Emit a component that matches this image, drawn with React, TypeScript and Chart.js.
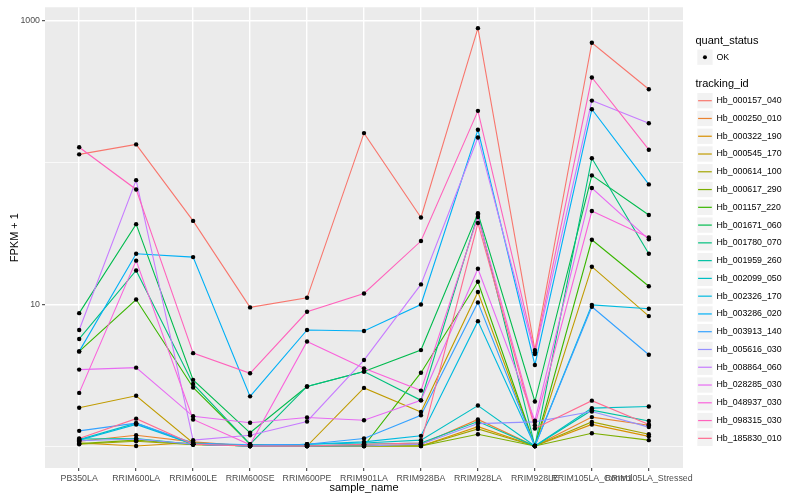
import React, { useEffect, useRef } from "react";
import { Chart, registerables } from "chart.js";

Chart.register(...registerables);

const FONT = "'Liberation Sans', Arial, Helvetica, sans-serif";

const sampleNames = [
  "PB350LA", "RRIM600LA", "RRIM600LE", "RRIM600SE", "RRIM600PE", "RRIM901LA",
  "RRIM928BA", "RRIM928LA", "RRIM928LE", "RRIM105LA_Control", "RRIM105LA_Stressed",
];

const trackingIds = [
  "Hb_000157_040", "Hb_000250_010", "Hb_000322_190", "Hb_000545_170", "Hb_000614_100",
  "Hb_000617_290", "Hb_001157_220", "Hb_001671_060", "Hb_001780_070", "Hb_001959_260",
  "Hb_002099_050", "Hb_002326_170", "Hb_003286_020", "Hb_003913_140", "Hb_005616_030",
  "Hb_008864_060", "Hb_028285_030", "Hb_048937_030", "Hb_098315_030", "Hb_185830_010",
];

const seriesColors = [
  "#F8766D", "#EA8331", "#D89000", "#C09B00", "#A3A500",
  "#7CAE00", "#39B600", "#00BB4E", "#00BF7D", "#00C1A3",
  "#00BFC4", "#00BAE0", "#00B0F6", "#35A2FF", "#9590FF",
  "#C77CFF", "#E76BF3", "#FA62DB", "#FF62BC", "#FF6C91",
];

// FPKM + 1 per sample (same order as sampleNames)
const hb_000157_040 = [114, 134, 38.7, 9.5, 11.1, 161, 40.9, 885, 4.75, 698, 328];
const hb_000250_010 = [1.08, 1.19, 1.07, 1, 1, 1, 1.03, 1.54, 1, 1.6, 1.4];
const hb_000322_190 = [1.05, 1.0, 1.06, 1, 1, 1, 1, 1.37, 1, 1.42, 1.17];
const hb_000545_170 = [1.86, 2.26, 1.05, 1, 1, 2.57, 1.74, 12.2, 1, 18.4, 8.25];
const hb_000614_100 = [1.03, 1.08, 1.02, 1, 1, 1, 1, 1.32, 1, 1.48, 1.21];
const hb_000617_290 = [1.04, 1.1, 1.03, 1, 1, 1, 1, 1.21, 1, 1.23, 1.1];
const hb_001157_220 = [4.65, 10.8, 2.59, 1.03, 1, 1, 3.29, 14.4, 1, 28.5, 13.4];
const hb_001671_060 = [8.65, 36.7, 2.93, 1.24, 2.63, 3.35, 4.75, 43.8, 2.06, 81, 42.6];
const hb_001780_070 = [5.69, 17.3, 2.74, 1.03, 2.63, 3.35, 2.1, 42.9, 1, 107, 22.7];
const hb_001959_260 = [1.12, 1.13, 1.03, 1, 1, 1.03, 1.05, 1.49, 1, 1.79, 1.5];
const hb_002099_050 = [1.11, 1.45, 1.03, 1, 1.03, 1.05, 1.1, 1.93, 1, 1.85, 1.9];
const hb_002326_170 = [1.1, 1.42, 1.03, 1, 1.03, 1.07, 1.18, 7.6, 1, 9.9, 9.3];
const hb_003286_020 = [4.65, 22.7, 21.5, 2.24, 6.58, 6.47, 9.95, 170, 3.73, 237, 70];
const hb_003913_140 = [1.28, 1.45, 1.05, 1.02, 1.03, 1.13, 1.65, 10.3, 1, 9.6, 4.4];
const hb_005616_030 = [1.09, 1.12, 1.03, 1, 1, 1, 1.03, 1.44, 1.48, 1.75, 1.36];
const hb_008864_060 = [6.58, 75, 1.1, 1.19, 1.49, 4.04, 13.8, 150, 4.45, 273, 189];
const hb_028285_030 = [3.46, 3.57, 1.62, 1.46, 1.59, 1.52, 2.1, 17.8, 1.51, 66, 28.7];
const hb_048937_030 = [2.37, 20.3, 1.54, 1.02, 5.46, 3.53, 2.46, 41.2, 1.4, 45.4, 29.6];
const hb_098315_030 = [128, 64.5, 4.52, 3.26, 8.85, 11.9, 27.9, 231, 4.59, 397, 123];
const hb_185830_010 = [1.13, 1.56, 1.03, 1, 1, 1.03, 1.05, 37.4, 1.33, 2.09, 1.42];

const seriesValues = [
  hb_000157_040, hb_000250_010, hb_000322_190, hb_000545_170, hb_000614_100,
  hb_000617_290, hb_001157_220, hb_001671_060, hb_001780_070, hb_001959_260,
  hb_002099_050, hb_002326_170, hb_003286_020, hb_003913_140, hb_005616_030,
  hb_008864_060, hb_028285_030, hb_048937_030, hb_098315_030, hb_185830_010,
];

const yTickValues = [1, 10, 100, 1000];
const yTickLabels = ["", "10", "", "1000"];
const yTickMajor = [false, true, false, true];

const xTitle = "sample_name";
const yTitle = "FPKM + 1";
const statusTitle = "quant_status";
const statusLabels = ["OK"];
const trackingTitle = "tracking_id";

const panelBg = {
  id: "panelBg",
  beforeDraw(chart: any) {
    const { ctx, chartArea } = chart;
    if (!chartArea) return;
    ctx.save();
    ctx.fillStyle = "#FFFFFF";
    ctx.fillRect(0, 0, chart.width, chart.height);
    ctx.fillStyle = "#EBEBEB";
    ctx.fillRect(chartArea.left, chartArea.top, chartArea.right - chartArea.left, chartArea.bottom - chartArea.top);
    ctx.restore();
  },
};

const ggLegend = {
  id: "ggLegend",
  afterDraw(chart: any) {
    const ctx = chart.ctx;
    const x0 = 695.5;
    const keyX = 697.3;
    const keyW = 15.3;
    const textX = 716.5;
    ctx.save();
    ctx.textBaseline = "middle";
    ctx.textAlign = "left";
    ctx.fillStyle = "#000";
    ctx.font = `11px ${FONT}`;
    ctx.fillText(statusTitle, x0, 40.5);
    // OK key
    const okY = 57.2;
    ctx.fillStyle = "#F2F2F2";
    ctx.fillRect(keyX, okY - keyW / 2, keyW, keyW);
    ctx.fillStyle = "#000";
    ctx.beginPath();
    ctx.arc(keyX + keyW / 2, okY, 2, 0, Math.PI * 2);
    ctx.fill();
    ctx.font = `8.8px ${FONT}`;
    ctx.fillText(statusLabels[0], textX, okY);
    ctx.font = `11px ${FONT}`;
    ctx.fillText(trackingTitle, x0, 84.3);
    trackingIds.forEach((id, i) => {
      const cy = 100.7 + i * 17.77;
      ctx.fillStyle = "#F2F2F2";
      ctx.fillRect(keyX, cy - keyW / 2, keyW, keyW);
      ctx.strokeStyle = seriesColors[i];
      ctx.lineWidth = 1.2;
      ctx.beginPath();
      ctx.moveTo(keyX + 0.8, cy);
      ctx.lineTo(keyX + keyW - 0.8, cy);
      ctx.stroke();
      ctx.fillStyle = "#000";
      ctx.font = `8.8px ${FONT}`;
      ctx.fillText(id, textX, cy);
    });
    ctx.restore();
  },
};

export default function App() {
  const canvasRef = useRef<HTMLCanvasElement | null>(null);

  useEffect(() => {
    if (!canvasRef.current) return;
    const lineSets = seriesValues.map((vals, i) => ({
      label: trackingIds[i],
      data: vals.map((v, j) => ({ x: j, y: v })),
      borderColor: seriesColors[i],
      backgroundColor: seriesColors[i],
      borderWidth: 1.1,
      pointRadius: 0,
      pointHoverRadius: 0,
      fill: false,
      tension: 0,
      order: 100 - i,
    }));
    const pointSet = {
      label: "points",
      data: seriesValues.flatMap((vals) => vals.map((v, j) => ({ x: j, y: v }))),
      showLine: false,
      borderColor: "#000",
      backgroundColor: "#000",
      pointRadius: 2.2,
      pointBorderWidth: 0,
      pointHoverRadius: 2.2,
      order: 0,
    };

    const chart = new Chart(canvasRef.current, {
      type: "line",
      data: { datasets: [...lineSets, pointSet] as any },
      options: {
        animation: false,
        responsive: true,
        maintainAspectRatio: false,
        events: [],
        layout: { padding: { left: 8, right: 117, top: 5, bottom: 5 } },
        plugins: {
          legend: { display: false },
          tooltip: { enabled: false },
          title: { display: false },
        },
        scales: {
          x: {
            type: "linear",
            min: -0.6,
            max: sampleNames.length - 1 + 0.6,
            afterBuildTicks: (scale: any) => {
              scale.ticks = sampleNames.map((_, i) => ({ value: i }));
            },
            afterFit: (scale: any) => {
              scale.height = 27;
            },
            border: { display: false },
            grid: {
              color: "#FFFFFF",
              lineWidth: 1.4,
              tickColor: "#333333",
              tickLength: 3,
              tickWidth: 1,
            },
            ticks: {
              autoSkip: false,
              maxRotation: 0,
              minRotation: 0,
              padding: 2,
              color: "#4D4D4D",
              font: { family: FONT, size: 8.8 },
              callback: (v: any) => sampleNames[Math.round(v)] ?? "",
            },
            title: {
              display: true,
              text: xTitle,
              color: "#000",
              font: { family: FONT, size: 11 },
              padding: { top: 0, bottom: 0 },
            },
          },
          y: {
            type: "logarithmic",
            min: 0.712,
            max: 1242,
            afterBuildTicks: (scale: any) => {
              scale.ticks = yTickValues.map((v) => ({ value: v }));
            },
            afterFit: (scale: any) => {
              scale.width = 37;
            },
            border: { display: false },
            grid: {
              color: "#FFFFFF",
              lineWidth: (ctx: any) => (yTickMajor[ctx.index] ? 1.4 : 0.7),
              tickColor: (ctx: any) => (yTickMajor[ctx.index] ? "#333333" : "rgba(0,0,0,0)"),
              tickLength: 3,
              tickWidth: 1,
            },
            ticks: {
              padding: 2,
              color: "#4D4D4D",
              font: { family: FONT, size: 8.8 },
              callback: (v: any) => {
                const k = yTickValues.indexOf(Number(v));
                return k >= 0 ? yTickLabels[k] : "";
              },
            },
            title: {
              display: true,
              text: yTitle,
              color: "#000",
              font: { family: FONT, size: 11 },
              padding: { top: 0, bottom: 0 },
            },
          },
        },
      } as any,
      plugins: [panelBg, ggLegend],
    });
    return () => chart.destroy();
  }, []);

  return (
    <div style={{ position: "absolute", left: 0, top: 0, width: 800, height: 500, background: "#fff" }}>
      <canvas ref={canvasRef} />
    </div>
  );
}
